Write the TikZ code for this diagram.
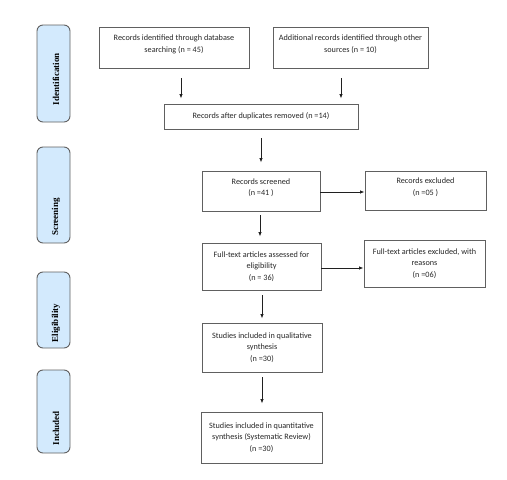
\documentclass[tikz,border=0pt]{standalone}
\usepackage{fontspec}
\setmainfont{Carlito}
\newfontfamily\phasefont{Liberation Serif}
\usetikzlibrary{arrows.meta,calc}
\definecolor{boxline}{HTML}{606060}
\definecolor{phasefill}{HTML}{D3EAFD}
\definecolor{arrowcol}{HTML}{202020}
\tikzset{
  x=1pt, y=-1pt,
  flowbox/.style={draw=boxline, line width=0.9pt, align=center, inner sep=1pt,
    font=\fontsize{8.2}{11.5}\selectfont, text=black!85},
  phasebox/.style={draw=boxline, line width=0.9pt, fill=phasefill, rounded corners=6pt,
    minimum width=33pt},
  phaselabel/.style={rotate=90, font=\phasefont\bfseries\fontsize{9}{10}\selectfont, inner sep=0pt},
  arr/.style={draw=arrowcol, line width=0.8pt, -{Latex[length=4.5pt,width=3.5pt]}}
}
\begin{document}
\begin{tikzpicture}
\useasboundingbox (0,0) rectangle (507,480);
% phase boxes
\node[phasebox, minimum height=97pt] (pid) at (53.5,73.5) {};
\node[phasebox, minimum height=96pt] (pscr) at (53.5,195) {};
\node[phasebox, minimum height=76pt] (pel) at (53.5,310) {};
\node[phasebox, minimum height=83pt] (pin) at (53.5,411.5) {};
\node[phaselabel] (lid) at (56,79) {Identification};
\node[phaselabel] (lscr) at (56,217) {Screening};
\node[phaselabel] (lel) at (56,323) {Eligibility};
\node[phaselabel] (lin) at (56,428) {Included};
% flow boxes
\node[flowbox, minimum width=150pt, minimum height=41pt] (b1) at (174,47.5)
  {Records identified through database\\searching (n = 45)\\[-4pt]};
\node[flowbox, minimum width=155pt, minimum height=41pt] (b2) at (350.5,47.5)
  {Additional records identified through other\\sources (n = 10)\\[-4pt]};
\node[flowbox, minimum width=194pt, minimum height=25pt] (b3) at (261,116.5)
  {Records after duplicates removed (n =14)};
\node[flowbox, minimum width=118pt, minimum height=40pt] (scr) at (261,191)
  {Records screened\\(n =41 )\\[-4pt]};
\node[flowbox, minimum width=121pt, minimum height=39pt] (exc) at (425.5,190.5)
  {Records excluded\\(n =05 )\\[-4pt]};
\node[flowbox, minimum width=119pt, minimum height=47pt] (ft) at (261.5,266.5)
  {Full-text articles assessed for\\eligibility\\(n = 36)};
\node[flowbox, minimum width=121pt, minimum height=47pt] (ftx) at (424.5,263.5)
  {Full-text articles excluded, with\\reasons\\(n =06)};
\node[flowbox, minimum width=120pt, minimum height=49pt] (qual) at (262,347.5)
  {Studies included in qualitative\\synthesis\\(n =30)};
\node[flowbox, minimum width=121pt, minimum height=51pt] (quant) at (261.5,437.5)
  {Studies included in quantitative\\synthesis (Systematic Review)\\(n =30)};
% arrow columns
\coordinate (c1) at (181,0);
\coordinate (c2) at (341,0);
\coordinate (c3) at (261,0);
\coordinate (c4) at (260,0);
\coordinate (c5) at (262,0);
\coordinate (r1) at (0,192);
\coordinate (r2) at (0,268);
% connectors
\draw[arr, shorten <=10pt, shorten >=5pt] (b1.south -| c1) -- (b3.north -| c1);
\draw[arr, shorten <=10pt, shorten >=5pt] (b2.south -| c2) -- (b3.north -| c2);
\draw[arr, shorten <=9pt, shorten >=8pt] (b3.south -| c3) -- (scr.north -| c3);
\draw[arr] (scr.east |- r1) -- (exc.west |- r1);
\draw[arr, shorten <=4pt, shorten >=6pt] (scr.south -| c4) -- (ft.north -| c4);
\draw[arr] (ft.east |- r2) -- (ftx.west |- r2);
\draw[arr, shorten <=5pt, shorten >=4pt] (ft.south -| c5) -- (qual.north -| c5);
\draw[arr, shorten <=5pt, shorten >=8pt] (qual.south -| c5) -- (quant.north -| c5);
\end{tikzpicture}
\end{document}
